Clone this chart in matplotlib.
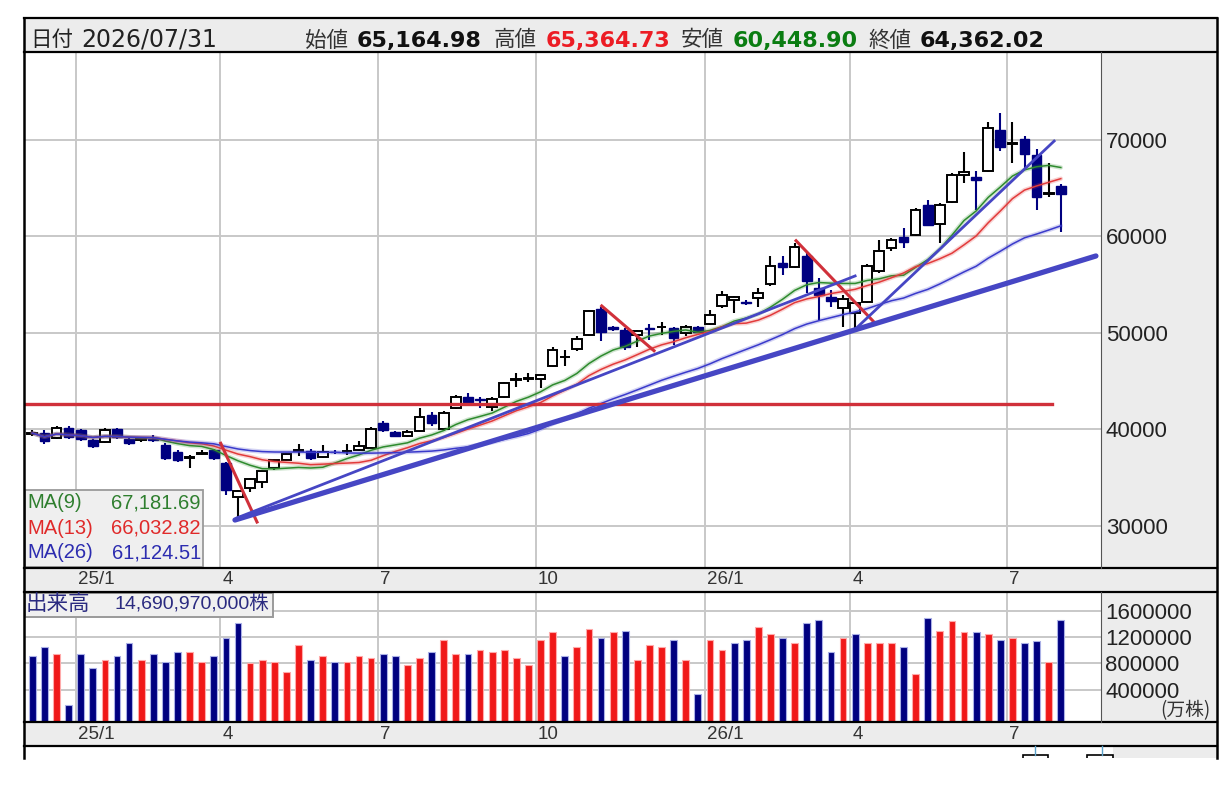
import numpy as np
import pandas as pd
import matplotlib
matplotlib.use('Agg')
import matplotlib.pyplot as plt
from matplotlib.patches import Rectangle

plt.rcParams['font.family'] = ['Liberation Sans', 'Noto Sans CJK JP', 'DejaVu Sans']

# weekly candles, 2024/12 .. 2026/07/31
opens = [39550, 39640, 39050, 40160, 39900, 38880, 38710, 39990, 38950, 38900,
         39000, 38360, 37670, 37050, 37430, 37850, 36460, 33010, 33870, 34560,
         35950, 36810, 37750, 37740, 37150, 37650, 37700, 37850, 38090, 40610,
         39670, 39330, 39850, 41470, 39990, 42160, 43370, 43100, 42330, 43370,
         45100, 45250, 45170, 46550, 47450, 48276, 49760, 52420, 50550, 50280,
         49760, 50400, 50550, 50450, 49930, 50560, 50900, 52767, 53390, 53220,
         53560, 55047, 57200, 56842, 57948, 54597, 53665, 52525, 52008, 53218,
         56430, 58744, 59953, 60125, 63234, 61265, 63580, 66343, 66100, 66791,
         71005, 69600, 70038, 68415, 64400, 65164.98]
highs = [39950, 39900, 40360, 40300, 40050, 38950, 40160, 40150, 39050, 39150,
         39400, 38540, 37800, 37330, 37850, 37950, 36550, 33700, 34950, 35800,
         36950, 37500, 38500, 37900, 38360, 37800, 38500, 38800, 40260, 40800,
         39800, 39900, 42160, 41800, 41900, 43500, 43780, 43370, 43370, 44850,
         45860, 45860, 45700, 48500, 48200, 49700, 52400, 52700, 50700, 50450,
         50280, 50900, 51150, 50600, 50800, 50700, 52400, 54300, 53800, 53400,
         54600, 57900, 57900, 59300, 58300, 55630, 54400, 53900, 53300, 57100,
         59600, 59850, 60850, 62900, 63800, 63400, 66500, 68760, 66800, 71800,
         72800, 71870, 70400, 69000, 67550, 65364.73]
lows = [39250, 38500, 38950, 39000, 38800, 38020, 38540, 38950, 38360, 38700,
        38700, 36810, 36650, 35950, 37300, 36800, 33180, 30590, 33500, 33870,
        35800, 36700, 37200, 36810, 37000, 37400, 37300, 37700, 37900, 39700,
        39150, 39200, 39700, 40300, 39850, 42050, 42500, 42160, 41900, 43200,
        44400, 44900, 44300, 46400, 46500, 48100, 49650, 49100, 50150, 48200,
        48550, 49250, 49760, 48730, 49700, 50000, 50800, 52600, 52000, 52900,
        52700, 54800, 56000, 56700, 54100, 51316, 52700, 50625, 50450, 53100,
        56200, 58500, 58800, 60000, 61100, 59300, 63400, 65480, 62717, 66700,
        68800, 67550, 67000, 62700, 64100, 60448.90]
closes = [39600, 38810, 40090, 39160, 38950, 38260, 39920, 39160, 38600, 38950,
          38920, 36980, 36810, 37100, 37500, 36980, 33700, 33600, 34800, 35700,
          36800, 37450, 37800, 36980, 37670, 37600, 37750, 38300, 39990, 39920,
          39330, 39740, 41300, 40680, 41720, 43370, 42780, 43050, 43090, 44750,
          45150, 45300, 45620, 48200, 47500, 49310, 52283, 50107, 50400, 48553,
          50180, 50380, 50600, 49420, 50630, 50110, 51835, 53907, 53730, 53040,
          54150, 56950, 56800, 58915, 55392, 53907, 53320, 53458, 53044, 56914,
          58502, 59608, 59435, 62716, 61162, 63234, 66343, 66688, 65826, 71178,
          69278, 69650, 68484, 64097, 64500, 64362.02]
# volume in 万株
volumes = [918500, 1057000, 949300, 164700, 949300, 723700, 857000, 918500, 1118500, 857000,
           949300, 826200, 980000, 980000, 826200, 918500, 1195500, 1426200, 805700, 857000,
           826200, 672400, 1087800, 857000, 918500, 826200, 826200, 918500, 887800, 949300,
           918500, 780000, 887800, 980000, 1164700, 949300, 949300, 1000600, 980000, 1000600,
           887800, 780000, 1164700, 1287600, 918500, 1057000, 1334000, 1195500, 1287600, 1303100,
           857000, 1087800, 1057000, 1164700, 857000, 334000, 1164700, 1000600, 1118500, 1164700,
           1364700, 1257000, 1195500, 1118500, 1426200, 1472300, 980000, 1195500, 1257000, 1118500,
           1118500, 1118500, 1057000, 641600, 1503100, 1303100, 1457000, 1287600, 1287600, 1257000,
           1164700, 1195500, 1118500, 1149300, 826200, 1469097]

last_date = '2026/07/31'
month_pos = [3.6, 15.55, 28.55, 41.6, 55.6, 67.6, 80.55]
month_labels = ['25/1', '4', '7', '10', '26/1', '4', '7']
price_ticks = [30000, 40000, 50000, 60000, 70000]
vol_ticks = [400000, 800000, 1200000, 1600000]

ma_periods = [9, 13, 26]
ma_last = [67181.69, 66032.82, 61124.51]

# lines drawn on the chart by hand: (week index, price)
hline_price = 42630
hline_weeks = (-0.7, 84.3)
red_lines = [((15.57, 38540), (18.57, 30380)),
             ((47.06, 52770), (51.38, 48130)),
             ((63.12, 59530), (69.64, 51000))]
blue_thick = ((16.75, 30590), (87.9, 57950))
blue_thin = [((16.9, 30800), (68.0, 55880)),
             ((68.2, 50590), (84.45, 69860))]

W, H = 1228, 787
fig = plt.figure(figsize=(W / 100, H / 100), dpi=100)


def frac(x0, y0, x1, y1):
    # pixel box -> figure fraction
    return [x0 / W, 1 - y1 / H, (x1 - x0) / W, (y1 - y0) / H]


gray = '#ececec'
bg = fig.add_axes([0, 0, 1, 1], zorder=0)
bg.set_xlim(0, W)
bg.set_ylim(H, 0)
bg.axis('off')
for x0, y0, x1, y1 in [(24, 18, 1217, 52), (24, 567.5, 1217, 591.5),
                       (1101, 52, 1217, 567.5), (1101, 591.5, 1217, 722.3),
                       (24, 722.3, 1217, 745.8), (1113, 745.8, 1217, 758)]:
    bg.add_patch(Rectangle((x0, y0), x1 - x0, y1 - y0, fc=gray, ec='none'))

ax = fig.add_axes(frac(24, 52, 1101, 567.5), zorder=2)
vax = fig.add_axes(frac(24, 591.5, 1101, 722.3), zorder=2)

x = np.arange(len(closes))
o = np.array(opens)
h = np.array(highs)
l = np.array(lows)
c = np.array(closes)
up = c >= o
navy = '#000080'

# candles
ax.vlines(x[up], l[up], h[up], color='black', lw=1.5, zorder=3)
ax.vlines(x[~up], l[~up], h[~up], color=navy, lw=1.5, zorder=3)
body_lo = np.minimum(o, c)
body_h = np.maximum(np.abs(c - o), 80)
ax.bar(x[up], body_h[up], bottom=body_lo[up], width=0.8, color='white',
       edgecolor='black', lw=1.4, zorder=4)
ax.bar(x[~up], body_h[~up], bottom=body_lo[~up], width=0.8, color=navy,
       edgecolor=navy, lw=1.0, zorder=4)

# moving averages
s = pd.Series(closes)
ma_colors = ['#2e8b2e', '#e23b3b', '#3a3acb']
for n, col in zip(ma_periods, ma_colors):
    m = s.rolling(n, min_periods=1).mean()
    ax.plot(x, m, color=col, lw=3.2, alpha=0.22, zorder=5, solid_capstyle='round')
    ax.plot(x, m, color=col, lw=1.1, zorder=5)

# hand drawn lines
red = '#d0303a'
blue = '#4646c4'
ax.plot(hline_weeks, [hline_price, hline_price], color=red, lw=2.4, zorder=6)
for (a, b) in red_lines:
    ax.plot([a[0], b[0]], [a[1], b[1]], color=red, lw=2.2, zorder=6)
ax.plot([blue_thick[0][0], blue_thick[1][0]], [blue_thick[0][1], blue_thick[1][1]],
        color=blue, lw=3.8, zorder=6, solid_capstyle='round')
for (a, b) in blue_thin:
    ax.plot([a[0], b[0]], [a[1], b[1]], color=blue, lw=2.0, zorder=6)

ax.set_xlim(-0.686, 88.32)
ax.set_ylim(25667, 79088)
ax.set_xticks(month_pos)
ax.set_yticks(price_ticks)
ax.set_yticklabels([str(t) for t in price_ticks])
ax.grid(True, color='#c8c8c8', lw=1.4)
ax.set_axisbelow(True)
ax.yaxis.tick_right()
ax.tick_params(axis='x', length=0, labelbottom=False)
ax.tick_params(axis='y', length=0, pad=3.6, labelsize=16, labelcolor='#222222')
for sp in ax.spines.values():
    sp.set_visible(False)

for pos, lab in zip(month_pos, month_labels):
    ax.annotate(lab, xy=(pos, 0), xycoords=('data', 'axes fraction'),
                xytext=(1.5, -8.5), textcoords='offset points',
                ha='left', va='center', fontsize=13.5, color='#333333')

# volume
vol_min, vol_max = -101500, 1903000
v = np.array(volumes)
chg = np.diff(c, prepend=c[0])
vcol = np.where(chg > 0, '#f01818', navy)
vedge = np.where(chg > 0, '#ffaaaa', '#aab0e6')
vax.bar(x, v - vol_min, bottom=vol_min, width=0.56, color=vcol, edgecolor=vedge,
        lw=0.8, zorder=3)
vax.set_xlim(-0.686, 88.32)
vax.set_ylim(vol_min, vol_max)
vax.set_xticks(month_pos)
vax.set_yticks(vol_ticks)
vax.set_yticklabels([str(t) for t in vol_ticks])
vax.grid(True, color='#c8c8c8', lw=1.4)
vax.set_axisbelow(True)
vax.yaxis.tick_right()
vax.tick_params(axis='x', length=0, labelbottom=False)
vax.tick_params(axis='y', length=0, pad=3.2, labelsize=16, labelcolor='#222222')
for sp in vax.spines.values():
    sp.set_visible(False)
for pos, lab in zip(month_pos, month_labels):
    vax.annotate(lab, xy=(pos, 0), xycoords=('data', 'axes fraction'),
                 xytext=(1.5, -8.5), textcoords='offset points',
                 ha='left', va='center', fontsize=13.5, color='#333333')

# frame, header, info boxes
fg = fig.add_axes([0, 0, 1, 1], zorder=10)
fg.set_xlim(0, W)
fg.set_ylim(H, 0)
fg.axis('off')
for y in [18, 52, 567.5, 591.5, 722.3, 745.8]:
    fg.plot([24, 1217], [y, y], color='black', lw=1.6)
fg.plot([24, 24], [18, 758], color='black', lw=1.8)
fg.plot([1217, 1217], [18, 758], color='black', lw=1.8)
fg.plot([1101, 1101], [52, 567.5], color='#555555', lw=0.8)
fg.plot([1101, 1101], [591.5, 722.3], color='#555555', lw=0.8)

# cut-off panel below
fg.plot([1035, 1035], [746, 755], color='#5aa0c8', lw=1)
fg.plot([1101.5, 1101.5], [746, 755], color='#5aa0c8', lw=1)
fg.add_patch(Rectangle((1023, 755), 25, 6, fc='white', ec='black', lw=1.2))
fg.add_patch(Rectangle((1087, 755), 26, 6, fc='white', ec='black', lw=1.2))
fg.add_patch(Rectangle((0, 758), W, 30, fc='white', ec='none'))

cjk = ['Noto Sans CJK JP', 'DejaVu Sans']
num = ['DejaVu Sans']
hy = 46.5
fg.text(30, hy, '日付', fontsize=15.5, family=cjk, color='#222222', va='baseline')
fg.text(81, hy, last_date, fontsize=17, family=num, color='#222222', va='baseline')
header = [('始値', opens[-1], '#111111', 305),
          ('高値', highs[-1], '#ec1c24', 494),
          ('安値', lows[-1], '#0b7d12', 681),
          ('終値', closes[-1], '#111111', 868)]
for lab, val, col, xx in header:
    fg.text(xx, hy, lab, fontsize=15.5, family=cjk, color='#333333', va='baseline')
    fg.text(xx + 52, hy, f'{val:,.2f}', fontsize=16, family=num, weight='bold',
            color=col, va='baseline')

fg.add_patch(Rectangle((24.7, 490), 178.5, 77, fc='#efefef', ec='#9a9a9a', lw=1.3))
leg_colors = ['#2f7f2f', '#e02a2a', '#2c2cb0']
for k, (n, val, col) in enumerate(zip(ma_periods, ma_last, leg_colors)):
    yy = 503 + 25 * k
    fg.text(27.5, yy, f'MA({n})', fontsize=14.5, color=col, va='center')
    fg.text(201, yy, f'{val:,.2f}', fontsize=14.5, color=col, va='center', ha='right')

fg.add_patch(Rectangle((24.7, 592.5), 248, 24.5, fc='#f0f0f0', ec='#9a9a9a', lw=1.4))
fg.text(26, 604, '出来高', fontsize=15.5, family=cjk, color='#2a2a80', va='center')
fg.text(115, 604, f'{volumes[-1] * 10000:,.0f}株', fontsize=14,
        family=['Liberation Sans', 'Noto Sans CJK JP'], color='#2a2a80', va='center')
fg.text(1210, 711, '(万株)', fontsize=13.5, family=cjk, color='#333333',
        va='center', ha='right')

fig.savefig('out.png', dpi=100, facecolor='white')
